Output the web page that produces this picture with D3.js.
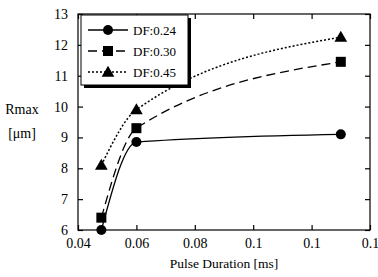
<!DOCTYPE html>
<html>
<head>
<meta charset="utf-8">
<script src="https://cdn.jsdelivr.net/npm/d3@7"></script>
<style>
  body { margin: 0; background: #fff; }
  svg { display: block; }
</style>
</head>
<body>
<div id="chart"></div>
<script>
// Data
const pulseDuration = [0.048, 0.06, 0.13];
const df024 = [6.0, 8.85, 9.1];
const df030 = [6.4, 9.3, 11.45];
const df045 = [8.1, 9.9, 12.25];
const seriesNames = ["DF:0.24", "DF:0.30", "DF:0.45"];
const xTicks = [0.04, 0.06, 0.08, 0.1, 0.12, 0.14];
const yTicks = [6, 7, 8, 9, 10, 11, 12, 13];

const width = 378, height = 277;
const margin = { top: 14, right: 8, bottom: 47, left: 78 };
const font = "'Liberation Serif', 'Times New Roman', serif";

const svg = d3.select("#chart").append("svg")
  .attr("width", width)
  .attr("height", height);

const x = d3.scaleLinear().domain([0.04, 0.14]).range([margin.left, width - margin.right]);
const y = d3.scaleLinear().domain([6, 13]).range([height - margin.bottom, margin.top]);

// frame
svg.append("rect")
  .attr("x", x(0.04)).attr("y", y(13))
  .attr("width", x(0.14) - x(0.04)).attr("height", y(6) - y(13))
  .attr("fill", "none").attr("stroke", "#000").attr("stroke-width", 1.2);

// the original rounds the x labels to one significant digit (0.12 -> 0.1)
const fmtX = d3.format(".1~g");
const fmtY = d3.format("d");

// inward ticks on all four sides
const axes = [
  { ax: d3.axisBottom(x).tickValues(xTicks).tickSizeInner(-5).tickSizeOuter(0).tickPadding(8).tickFormat(fmtX), t: `translate(0,${y(6)})` },
  { ax: d3.axisTop(x).tickValues(xTicks).tickSizeInner(-5).tickSizeOuter(0).tickFormat(""), t: `translate(0,${y(13)})` },
  { ax: d3.axisLeft(y).tickValues(yTicks).tickSizeInner(-5).tickSizeOuter(0).tickPadding(10).tickFormat(fmtY), t: `translate(${x(0.04)},0)` },
  { ax: d3.axisRight(y).tickValues(yTicks).tickSizeInner(-5).tickSizeOuter(0).tickFormat(""), t: `translate(${x(0.14)},0)` }
];
axes.forEach(a => {
  const g = svg.append("g").attr("transform", a.t).call(a.ax);
  g.select(".domain").remove();
  g.selectAll("line").attr("stroke", "#000").attr("stroke-width", 1.2);
  g.selectAll("text").attr("font-family", font).attr("font-size", 14).attr("fill", "#000");
});

// axis titles
svg.append("text").attr("x", 224).attr("y", 268).attr("text-anchor", "middle")
  .attr("font-family", font).attr("font-size", 13.5).text("Pulse Duration [ms]");
svg.append("text").attr("x", 22).attr("y", 114).attr("text-anchor", "middle")
  .attr("font-family", font).attr("font-size", 14).text("Rmax");
svg.append("text").attr("x", 22).attr("y", 138).attr("text-anchor", "middle")
  .attr("font-family", font).attr("font-size", 14).text("[\u03bcm]");

const series = [
  { name: seriesNames[0], values: df024, dash: null, marker: "circle" },
  { name: seriesNames[1], values: df030, dash: "9,5", marker: "square" },
  { name: seriesNames[2], values: df045, dash: "2,2", marker: "triangle" }
];

const line = d3.line()
  .x(d => x(d[0]))
  .y(d => y(d[1]))
  .curve(d3.curveMonotoneX);

function drawMarker(g, type, cx, cy) {
  if (type === "circle") {
    g.append("circle").attr("cx", cx).attr("cy", cy).attr("r", 5).attr("fill", "#000");
  } else if (type === "square") {
    g.append("rect").attr("x", cx - 5).attr("y", cy - 5).attr("width", 10).attr("height", 10).attr("fill", "#000");
  } else {
    g.append("path").attr("d", d3.symbol(d3.symbolTriangle, 70)()).attr("transform", `translate(${cx},${cy + 1})`).attr("fill", "#000");
  }
}

series.forEach(s => {
  const pts = pulseDuration.map((p, i) => [p, s.values[i]]);
  svg.append("path").datum(pts)
    .attr("d", line)
    .attr("fill", "none").attr("stroke", "#000").attr("stroke-width", s.dash === "2,2" ? 1.5 : 1.3)
    .attr("stroke-dasharray", s.dash);
  const g = svg.append("g");
  pts.forEach(p => drawMarker(g, s.marker, x(p[0]), y(p[1])));
});

// legend with drop shadow
const lg = svg.append("g");
const lx = x(0.04) + 3, ly = y(13) + 1, lw = 107, lh = 70;
lg.append("rect").attr("x", lx + 3).attr("y", ly + 3).attr("width", lw).attr("height", lh).attr("fill", "#000");
lg.append("rect").attr("x", lx).attr("y", ly).attr("width", lw).attr("height", lh)
  .attr("fill", "#fff").attr("stroke", "#000").attr("stroke-width", 1);
series.forEach((s, i) => {
  const yy = ly + 15 + i * 21;
  lg.append("line").attr("x1", lx + 7).attr("x2", lx + 47).attr("y1", yy).attr("y2", yy)
    .attr("stroke", "#000").attr("stroke-width", 1.3).attr("stroke-dasharray", s.dash);
  drawMarker(lg, s.marker, lx + 27, yy);
  lg.append("text").attr("x", lx + 52).attr("y", yy + 4.5)
    .attr("font-family", font).attr("font-size", 13).text(s.name);
});
</script>
</body>
</html>
